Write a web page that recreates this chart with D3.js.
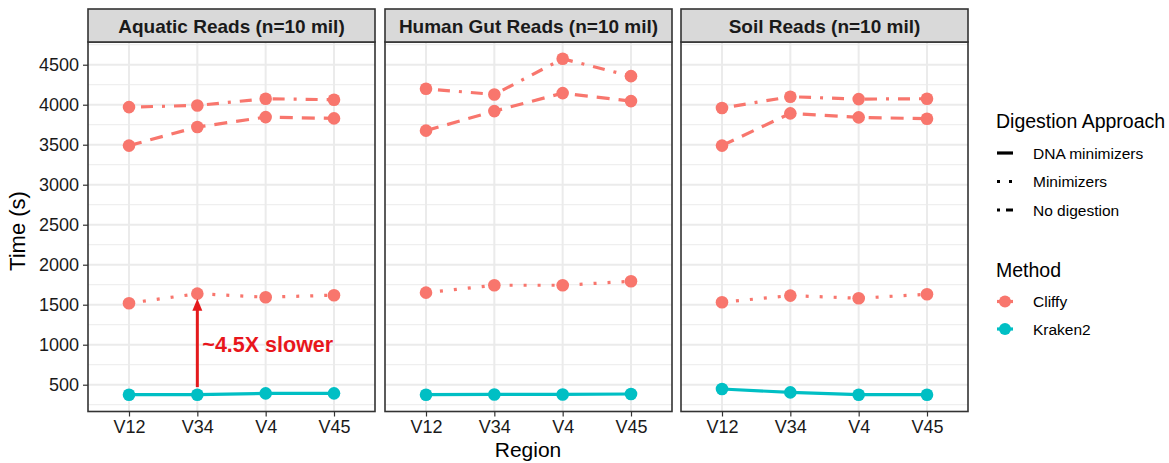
<!DOCTYPE html>
<html>
<head>
<meta charset="utf-8">
<script src="https://cdn.jsdelivr.net/npm/d3@7"></script>
<style>
  body { margin: 0; background: #fff; }
  text { font-family: "Liberation Sans", Arial, Helvetica, sans-serif; }
</style>
</head>
<body>
<div class="grafico"></div>
<script>
// categorias e paineis
var regions = ["V12", "V34", "V4", "V45"];
var datasets = ["Aquatic Reads (n=10 mil)", "Human Gut Reads (n=10 mil)", "Soil Reads (n=10 mil)"];
var yTicks = [500, 1000, 1500, 2000, 2500, 3000, 3500, 4000, 4500];

// tempos (s), um vetor por painel
var cliffyNoDigestion = [[3970, 3991, 4075, 4062], [4199, 4128, 4574, 4357], [3958, 4100, 4070, 4075]];
var cliffyDnaMinimizers = [[3489, 3721, 3845, 3829], [3676, 3920, 4145, 4045], [3489, 3892, 3842, 3825]];
var cliffyMinimizers = [[1519, 1638, 1594, 1619], [1651, 1743, 1743, 1793], [1531, 1614, 1581, 1631]];
var kraken2 = [[375, 375, 392, 392], [375, 378, 378, 384], [446, 404, 375, 375]];

var approaches = ["DNA minimizers", "Minimizers", "No digestion"];
var methods = ["Cliffy", "Kraken2"];

var series = [
  { method: "Cliffy", dash: "3,9,12,9", values: cliffyNoDigestion },
  { method: "Cliffy", dash: "13,9", values: cliffyDnaMinimizers },
  { method: "Cliffy", dash: "3,11", values: cliffyMinimizers },
  { method: "Kraken2", dash: null, values: kraken2 }
];

var color = d3.scaleOrdinal().domain(methods).range(["#F8766D", "#00BFC4"]);

var width = 1169, height = 463;
var svg = d3.select(".grafico").append("svg")
  .attr("width", width).attr("height", height);

var panelLeft = [88, 385, 681];
var panelW = 287;
var stripTop = 9, stripH = 33;
var plotTop = stripTop + stripH, plotBottom = 411.5;

// escala y com expansao de 5% estilo ggplot
var allVals = [].concat.apply([], series.map(function(s){ return [].concat.apply([], s.values); }));
var yMin = d3.min(allVals), yMax = d3.max(allVals);
var pad = (yMax - yMin) * 0.05;
var y = d3.scaleLinear().domain([yMin - pad, yMax + pad]).range([plotBottom, plotTop]);
var minorTicks = d3.range(250, 4800, 500).filter(function(v){ return v > y.domain()[0] && v < y.domain()[1]; });

datasets.forEach(function(name, p) {
  var x0 = panelLeft[p];
  var x = d3.scalePoint().domain(regions).range([x0, x0 + panelW]).padding(0.6);
  var g = svg.append("g");

  // grade
  g.selectAll(".minor").data(minorTicks).enter().append("line")
    .attr("x1", x0).attr("x2", x0 + panelW)
    .attr("y1", function(d){ return y(d); }).attr("y2", function(d){ return y(d); })
    .attr("stroke", "#EBEBEB").attr("stroke-width", 1);
  g.selectAll(".major").data(yTicks).enter().append("line")
    .attr("x1", x0).attr("x2", x0 + panelW)
    .attr("y1", function(d){ return y(d); }).attr("y2", function(d){ return y(d); })
    .attr("stroke", "#EBEBEB").attr("stroke-width", 2);
  g.selectAll(".vgrid").data(regions).enter().append("line")
    .attr("x1", function(d){ return x(d); }).attr("x2", function(d){ return x(d); })
    .attr("y1", plotTop).attr("y2", plotBottom)
    .attr("stroke", "#EBEBEB").attr("stroke-width", 2);

  // linhas e pontos
  var line = d3.line()
    .x(function(d, i){ return x(regions[i]); })
    .y(function(d){ return y(d); });

  series.forEach(function(s) {
    g.append("path")
      .attr("d", line(s.values[p]))
      .attr("fill", "none")
      .attr("stroke", color(s.method))
      .attr("stroke-width", 3.2)
      .attr("stroke-dasharray", s.dash);
    g.selectAll(null).data(s.values[p]).enter().append("circle")
      .attr("cx", function(d, i){ return x(regions[i]); })
      .attr("cy", function(d){ return y(d); })
      .attr("r", 6.3)
      .attr("fill", color(s.method));
  });

  // anotacao no primeiro painel
  if (p === 0) {
    var ax = x("V34");
    g.append("line")
      .attr("x1", ax).attr("x2", ax)
      .attr("y1", y(470)).attr("y2", y(1470))
      .attr("stroke", "#E41A1C").attr("stroke-width", 3);
    g.append("path")
      .attr("d", "M" + ax + "," + y(1575) + "L" + (ax - 5) + "," + (y(1575) + 12) + "L" + (ax + 5) + "," + (y(1575) + 12) + "Z")
      .attr("fill", "#E41A1C");
    g.append("text")
      .attr("x", ax + 5).attr("y", 352)
      .attr("font-size", 21.5).attr("font-weight", "bold")
      .attr("fill", "#E8161C")
      .text("~4.5X slower");
  }

  // borda do painel
  g.append("rect")
    .attr("x", x0).attr("y", plotTop).attr("width", panelW).attr("height", plotBottom - plotTop)
    .attr("fill", "none").attr("stroke", "#333333").attr("stroke-width", 1.6);

  // faixa do titulo
  g.append("rect")
    .attr("x", x0).attr("y", stripTop).attr("width", panelW).attr("height", stripH)
    .attr("fill", "#D9D9D9").attr("stroke", "#333333").attr("stroke-width", 1.6);
  g.append("text")
    .attr("x", x0 + panelW / 2).attr("y", stripTop + stripH / 2 + 7)
    .attr("text-anchor", "middle").attr("font-size", 19).attr("font-weight", "bold")
    .attr("fill", "#1A1A1A")
    .text(name);

  // eixo x
  var xAxis = g.append("g")
    .attr("transform", "translate(0," + plotBottom + ")")
    .call(d3.axisBottom(x).tickSize(5).tickPadding(4));
  xAxis.select(".domain").remove();
  xAxis.selectAll(".tick line").attr("stroke", "#333333").attr("stroke-width", 1.2);
  xAxis.selectAll(".tick text").attr("font-size", 18).attr("fill", "#1A1A1A")
    .attr("font-family", "Liberation Sans, Arial, sans-serif");

  // eixo y so no primeiro painel
  if (p === 0) {
    var yAxis = g.append("g")
      .attr("transform", "translate(" + x0 + ",0)")
      .call(d3.axisLeft(y).tickValues(yTicks).tickFormat(d3.format("d")).tickSize(5).tickPadding(4));
    yAxis.select(".domain").remove();
    yAxis.selectAll(".tick line").attr("stroke", "#333333").attr("stroke-width", 1.2);
    yAxis.selectAll(".tick text").attr("font-size", 18).attr("fill", "#1A1A1A")
      .attr("font-family", "Liberation Sans, Arial, sans-serif");
  }
});

// titulos dos eixos
svg.append("text")
  .attr("x", 528).attr("y", 457)
  .attr("text-anchor", "middle").attr("font-size", 21).attr("fill", "#000")
  .text("Region");
svg.append("text")
  .attr("transform", "translate(25,231) rotate(-90)")
  .attr("text-anchor", "middle").attr("font-size", 22).attr("fill", "#000")
  .text("Time (s)");

// legenda
var lx = 996;
svg.append("text").attr("x", lx).attr("y", 128).attr("font-size", 19.5).text("Digestion Approach");
var keyDash = [null, "3,9", "3,6,8"];
approaches.forEach(function(a, i) {
  var cy = 153 + i * 28.5;
  svg.append("line")
    .attr("x1", lx + 1).attr("x2", lx + 17).attr("y1", cy).attr("y2", cy)
    .attr("stroke", "#000").attr("stroke-width", 3.2)
    .attr("stroke-dasharray", keyDash[i]);
  svg.append("text").attr("x", lx + 37).attr("y", cy + 5.5).attr("font-size", 15.5).text(a);
});

svg.append("text").attr("x", lx).attr("y", 277).attr("font-size", 19.5).text("Method");
methods.forEach(function(m, i) {
  var cy = 301.5 + i * 27.5;
  svg.append("line")
    .attr("x1", lx + 1).attr("x2", lx + 17).attr("y1", cy).attr("y2", cy)
    .attr("stroke", color(m)).attr("stroke-width", 3.2);
  svg.append("circle").attr("cx", lx + 9).attr("cy", cy).attr("r", 6).attr("fill", color(m));
  svg.append("text").attr("x", lx + 37).attr("y", cy + 5.5).attr("font-size", 15.5).text(m);
});
</script>
</body>
</html>
